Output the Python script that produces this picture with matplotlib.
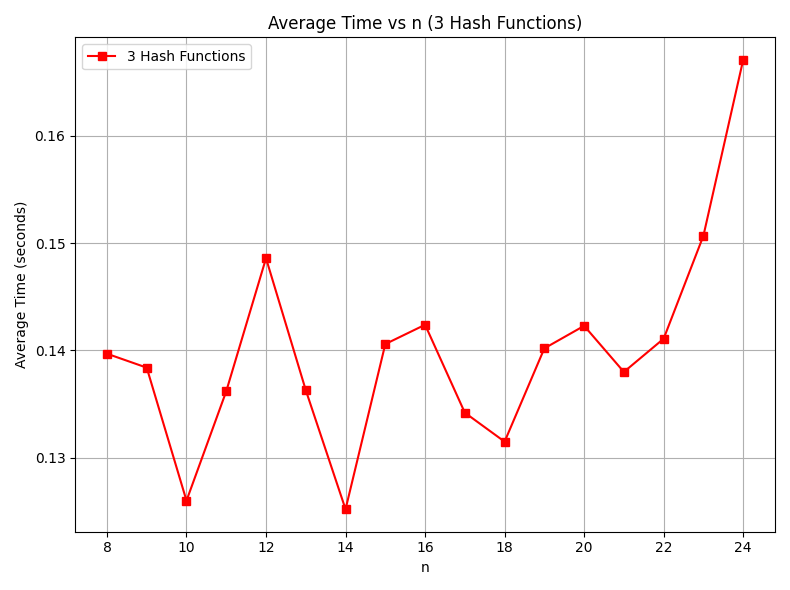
import matplotlib
matplotlib.use("Agg")
import matplotlib.pyplot as plt

n_values = list(range(8, 25))
avg_times = [0.1397, 0.1384, 0.1260, 0.1362, 0.1486, 0.1363, 0.1252, 0.1406, 0.1424,
             0.1342, 0.1315, 0.1402, 0.1423, 0.1380, 0.1411, 0.1507, 0.1671]

fig, ax = plt.subplots(figsize=(7.9, 5.9), dpi=100)
ax.plot(n_values, avg_times, color='red', marker='s', label='3 Hash Functions')
ax.set_title('Average Time vs n (3 Hash Functions)')
ax.set_xlabel('n')
ax.set_ylabel('Average Time (seconds)')
ax.set_xticks(range(8, 25, 2))
ax.grid(True)
ax.legend(loc='upper left')
fig.tight_layout()
fig.savefig('out.png')
